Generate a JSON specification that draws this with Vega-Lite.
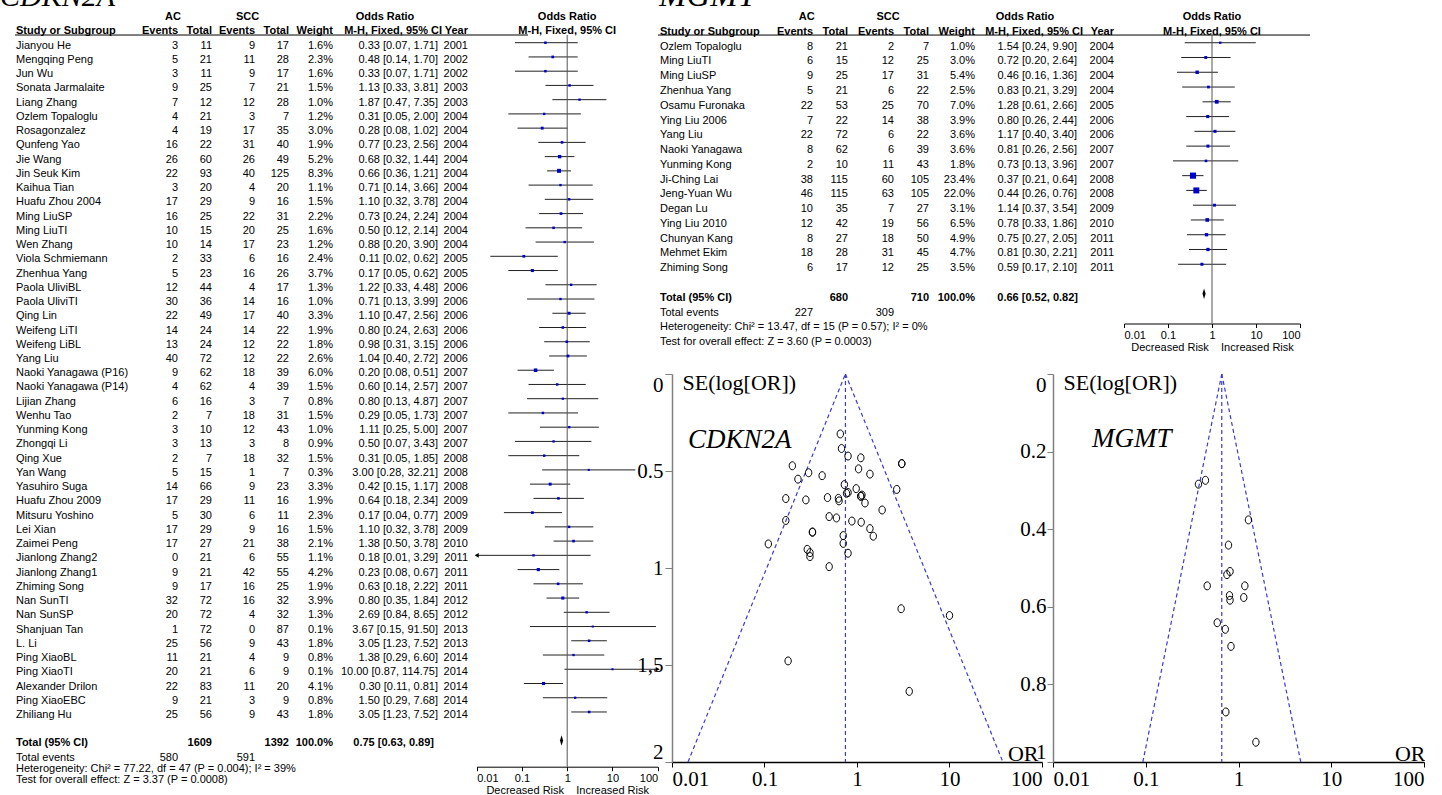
{
"$schema":"https://vega.github.io/schema/vega-lite/v6.json",
"padding":0,
"background":"white",
"config":{"view":{"stroke":null},"text":{"font":"Liberation Sans","fontSize":11,"color":"black","align":"right","baseline":"middle"},"rule":{"color":"black","strokeWidth":1},"axis":{"grid":false}},
"datasets":{
"cd":[
{"r":"h1","kind":"h1","ttl":"CDKN2A","ae":"AC","se":"SCC","ci":"Odds Ratio","fh":"Odds Ratio"},
{"r":"h2","kind":"h2","name":"Study or Subgroup","ae":"Events","at":"Total","se":"Events","st":"Total","w":"Weight","ci":"M-H, Fixed, 95% CI","yr":"Year","fh":"M-H, Fixed, 95% CI"},
{"r":"1","kind":"study","name":"Jianyou He","ae":3,"at":11,"se":9,"st":17,"w":"1.6%","ci":"0.33 [0.07, 1.71]","yr":"2001","orv":0.33,"lo":0.07,"hi":1.71,"wt":1.6,"sel":0.815},
{"r":"2","kind":"study","name":"Mengqing Peng","ae":5,"at":21,"se":11,"st":28,"w":"2.3%","ci":"0.48 [0.14, 1.70]","yr":"2002","orv":0.48,"lo":0.14,"hi":1.70,"wt":2.3,"sel":0.637},
{"r":"3","kind":"study","name":"Jun Wu","ae":3,"at":11,"se":9,"st":17,"w":"1.6%","ci":"0.33 [0.07, 1.71]","yr":"2002","orv":0.33,"lo":0.07,"hi":1.71,"wt":1.6,"sel":0.815},
{"r":"4","kind":"study","name":"Sonata Jarmalaite","ae":9,"at":25,"se":7,"st":21,"w":"1.5%","ci":"1.13 [0.33, 3.81]","yr":"2003","orv":1.13,"lo":0.33,"hi":3.81,"wt":1.5,"sel":0.624},
{"r":"5","kind":"study","name":"Liang Zhang","ae":7,"at":12,"se":12,"st":28,"w":"1.0%","ci":"1.87 [0.47, 7.35]","yr":"2003","orv":1.87,"lo":0.47,"hi":7.35,"wt":1.0,"sel":0.701},
{"r":"6","kind":"study","name":"Ozlem Topaloglu","ae":4,"at":21,"se":3,"st":7,"w":"1.2%","ci":"0.31 [0.05, 2.00]","yr":"2004","orv":0.31,"lo":0.05,"hi":2.00,"wt":1.2,"sel":0.941},
{"r":"7","kind":"study","name":"Rosagonzalez","ae":4,"at":19,"se":17,"st":35,"w":"3.0%","ci":"0.28 [0.08, 1.02]","yr":"2004","orv":0.28,"lo":0.08,"hi":1.02,"wt":3.0,"sel":0.649},
{"r":"8","kind":"study","name":"Qunfeng Yao","ae":16,"at":22,"se":31,"st":40,"w":"1.9%","ci":"0.77 [0.23, 2.56]","yr":"2004","orv":0.77,"lo":0.23,"hi":2.56,"wt":1.9,"sel":0.615},
{"r":"9","kind":"study","name":"Jie Wang","ae":26,"at":60,"se":26,"st":49,"w":"5.2%","ci":"0.68 [0.32, 1.44]","yr":"2004","orv":0.68,"lo":0.32,"hi":1.44,"wt":5.2,"sel":0.384},
{"r":"10","kind":"study","name":"Jin Seuk Kim","ae":22,"at":93,"se":40,"st":125,"w":"8.3%","ci":"0.66 [0.36, 1.21]","yr":"2004","orv":0.66,"lo":0.36,"hi":1.21,"wt":8.3,"sel":0.309},
{"r":"11","kind":"study","name":"Kaihua Tian","ae":3,"at":20,"se":4,"st":20,"w":"1.1%","ci":"0.71 [0.14, 3.66]","yr":"2004","orv":0.71,"lo":0.14,"hi":3.66,"wt":1.1,"sel":0.833},
{"r":"12","kind":"study","name":"Huafu Zhou 2004","ae":17,"at":29,"se":9,"st":16,"w":"1.5%","ci":"1.10 [0.32, 3.78]","yr":"2004","orv":1.10,"lo":0.32,"hi":3.78,"wt":1.5,"sel":0.630},
{"r":"13","kind":"study","name":"Ming LiuSP","ae":16,"at":25,"se":22,"st":31,"w":"2.2%","ci":"0.73 [0.24, 2.24]","yr":"2004","orv":0.73,"lo":0.24,"hi":2.24,"wt":2.2,"sel":0.570},
{"r":"14","kind":"study","name":"Ming LiuTI","ae":10,"at":15,"se":20,"st":25,"w":"1.6%","ci":"0.50 [0.12, 2.14]","yr":"2004","orv":0.50,"lo":0.12,"hi":2.14,"wt":1.6,"sel":0.735},
{"r":"15","kind":"study","name":"Wen Zhang","ae":10,"at":14,"se":17,"st":23,"w":"1.2%","ci":"0.88 [0.20, 3.90]","yr":"2004","orv":0.88,"lo":0.20,"hi":3.90,"wt":1.2,"sel":0.758},
{"r":"16","kind":"study","name":"Viola Schmiemann","ae":2,"at":33,"se":6,"st":16,"w":"2.4%","ci":"0.11 [0.02, 0.62]","yr":"2005","orv":0.11,"lo":0.02,"hi":0.62,"wt":2.4,"sel":0.876},
{"r":"17","kind":"study","name":"Zhenhua Yang","ae":5,"at":23,"se":16,"st":26,"w":"3.7%","ci":"0.17 [0.05, 0.62]","yr":"2005","orv":0.17,"lo":0.05,"hi":0.62,"wt":3.7,"sel":0.642},
{"r":"18","kind":"study","name":"Paola UliviBL","ae":12,"at":44,"se":4,"st":17,"w":"1.3%","ci":"1.22 [0.33, 4.48]","yr":"2006","orv":1.22,"lo":0.33,"hi":4.48,"wt":1.3,"sel":0.665},
{"r":"19","kind":"study","name":"Paola UliviTI","ae":30,"at":36,"se":14,"st":16,"w":"1.0%","ci":"0.71 [0.13, 3.99]","yr":"2006","orv":0.71,"lo":0.13,"hi":3.99,"wt":1.0,"sel":0.873},
{"r":"20","kind":"study","name":"Qing Lin","ae":22,"at":49,"se":17,"st":40,"w":"3.3%","ci":"1.10 [0.47, 2.56]","yr":"2006","orv":1.10,"lo":0.47,"hi":2.56,"wt":3.3,"sel":0.432},
{"r":"21","kind":"study","name":"Weifeng LiTI","ae":14,"at":24,"se":14,"st":22,"w":"1.9%","ci":"0.80 [0.24, 2.63]","yr":"2006","orv":0.80,"lo":0.24,"hi":2.63,"wt":1.9,"sel":0.611},
{"r":"22","kind":"study","name":"Weifeng LiBL","ae":13,"at":24,"se":12,"st":22,"w":"1.8%","ci":"0.98 [0.31, 3.15]","yr":"2006","orv":0.98,"lo":0.31,"hi":3.15,"wt":1.8,"sel":0.591},
{"r":"23","kind":"study","name":"Yang Liu","ae":40,"at":72,"se":12,"st":22,"w":"2.6%","ci":"1.04 [0.40, 2.72]","yr":"2006","orv":1.04,"lo":0.40,"hi":2.72,"wt":2.6,"sel":0.489},
{"r":"24","kind":"study","name":"Naoki Yanagawa (P16)","ae":9,"at":62,"se":18,"st":39,"w":"6.0%","ci":"0.20 [0.08, 0.51]","yr":"2007","orv":0.20,"lo":0.08,"hi":0.51,"wt":6.0,"sel":0.473},
{"r":"25","kind":"study","name":"Naoki Yanagawa (P14)","ae":4,"at":62,"se":4,"st":39,"w":"1.5%","ci":"0.60 [0.14, 2.57]","yr":"2007","orv":0.60,"lo":0.14,"hi":2.57,"wt":1.5,"sel":0.742},
{"r":"26","kind":"study","name":"Lijian Zhang","ae":6,"at":16,"se":3,"st":7,"w":"0.8%","ci":"0.80 [0.13, 4.87]","yr":"2007","orv":0.80,"lo":0.13,"hi":4.87,"wt":0.8,"sel":0.924},
{"r":"27","kind":"study","name":"Wenhu Tao","ae":2,"at":7,"se":18,"st":31,"w":"1.5%","ci":"0.29 [0.05, 1.73]","yr":"2007","orv":0.29,"lo":0.05,"hi":1.73,"wt":1.5,"sel":0.904},
{"r":"28","kind":"study","name":"Yunming Kong","ae":3,"at":10,"se":12,"st":43,"w":"1.0%","ci":"1.11 [0.25, 5.00]","yr":"2007","orv":1.11,"lo":0.25,"hi":5.00,"wt":1.0,"sel":0.764},
{"r":"29","kind":"study","name":"Zhongqi Li","ae":3,"at":13,"se":3,"st":8,"w":"0.9%","ci":"0.50 [0.07, 3.43]","yr":"2007","orv":0.50,"lo":0.07,"hi":3.43,"wt":0.9,"sel":0.993},
{"r":"30","kind":"study","name":"Qing Xue","ae":2,"at":7,"se":18,"st":32,"w":"1.5%","ci":"0.31 [0.05, 1.85]","yr":"2008","orv":0.31,"lo":0.05,"hi":1.85,"wt":1.5,"sel":0.921},
{"r":"31","kind":"study","name":"Yan Wang","ae":5,"at":15,"se":1,"st":7,"w":"0.3%","ci":"3.00 [0.28, 32.21]","yr":"2008","orv":3.00,"lo":0.28,"hi":32.21,"wt":0.3,"sel":1.210},
{"r":"32","kind":"study","name":"Yasuhiro Suga","ae":14,"at":66,"se":9,"st":23,"w":"3.3%","ci":"0.42 [0.15, 1.17]","yr":"2008","orv":0.42,"lo":0.15,"hi":1.17,"wt":3.3,"sel":0.524},
{"r":"33","kind":"study","name":"Huafu Zhou 2009","ae":17,"at":29,"se":11,"st":16,"w":"1.9%","ci":"0.64 [0.18, 2.34]","yr":"2009","orv":0.64,"lo":0.18,"hi":2.34,"wt":1.9,"sel":0.654},
{"r":"34","kind":"study","name":"Mitsuru Yoshino","ae":5,"at":30,"se":6,"st":11,"w":"2.3%","ci":"0.17 [0.04, 0.77]","yr":"2009","orv":0.17,"lo":0.04,"hi":0.77,"wt":2.3,"sel":0.755},
{"r":"35","kind":"study","name":"Lei Xian","ae":17,"at":29,"se":9,"st":16,"w":"1.5%","ci":"1.10 [0.32, 3.78]","yr":"2009","orv":1.10,"lo":0.32,"hi":3.78,"wt":1.5,"sel":0.630},
{"r":"36","kind":"study","name":"Zaimei Peng","ae":17,"at":27,"se":21,"st":38,"w":"2.1%","ci":"1.38 [0.50, 3.78]","yr":"2010","orv":1.38,"lo":0.50,"hi":3.78,"wt":2.1,"sel":0.516},
{"r":"37","kind":"study","name":"Jianlong Zhang2","ae":0,"at":21,"se":6,"st":55,"w":"1.1%","ci":"0.18 [0.01, 3.29]","yr":"2011","orv":0.18,"lo":0.01,"hi":3.29,"wt":1.1,"sel":1.479,"arrow":"left"},
{"r":"38","kind":"study","name":"Jianlong Zhang1","ae":9,"at":21,"se":42,"st":55,"w":"4.2%","ci":"0.23 [0.08, 0.67]","yr":"2011","orv":0.23,"lo":0.08,"hi":0.67,"wt":4.2,"sel":0.542},
{"r":"39","kind":"study","name":"Zhiming Song","ae":9,"at":17,"se":16,"st":25,"w":"1.9%","ci":"0.63 [0.18, 2.22]","yr":"2011","orv":0.63,"lo":0.18,"hi":2.22,"wt":1.9,"sel":0.641},
{"r":"40","kind":"study","name":"Nan SunTI","ae":32,"at":72,"se":16,"st":32,"w":"3.9%","ci":"0.80 [0.35, 1.84]","yr":"2012","orv":0.80,"lo":0.35,"hi":1.84,"wt":3.9,"sel":0.423},
{"r":"41","kind":"study","name":"Nan SunSP","ae":20,"at":72,"se":4,"st":32,"w":"1.3%","ci":"2.69 [0.84, 8.65]","yr":"2012","orv":2.69,"lo":0.84,"hi":8.65,"wt":1.3,"sel":0.595},
{"r":"42","kind":"study","name":"Shanjuan Tan","ae":1,"at":72,"se":0,"st":87,"w":"0.1%","ci":"3.67 [0.15, 91.50]","yr":"2013","orv":3.67,"lo":0.15,"hi":91.50,"wt":0.1,"sel":1.636},
{"r":"43","kind":"study","name":"L. Li","ae":25,"at":56,"se":9,"st":43,"w":"1.8%","ci":"3.05 [1.23, 7.52]","yr":"2013","orv":3.05,"lo":1.23,"hi":7.52,"wt":1.8,"sel":0.462},
{"r":"44","kind":"study","name":"Ping XiaoBL","ae":11,"at":21,"se":4,"st":9,"w":"0.8%","ci":"1.38 [0.29, 6.60]","yr":"2014","orv":1.38,"lo":0.29,"hi":6.60,"wt":0.8,"sel":0.797},
{"r":"45","kind":"study","name":"Ping XiaoTI","ae":20,"at":21,"se":6,"st":9,"w":"0.1%","ci":"10.00 [0.87, 114.75]","yr":"2014","orv":10.00,"lo":0.87,"hi":114.75,"wt":0.1,"sel":1.245,"arrow":"right"},
{"r":"46","kind":"study","name":"Alexander Drilon","ae":22,"at":83,"se":11,"st":20,"w":"4.1%","ci":"0.30 [0.11, 0.81]","yr":"2014","orv":0.30,"lo":0.11,"hi":0.81,"wt":4.1,"sel":0.509},
{"r":"47","kind":"study","name":"Ping XiaoEBC","ae":9,"at":21,"se":3,"st":9,"w":"0.8%","ci":"1.50 [0.29, 7.68]","yr":"2014","orv":1.50,"lo":0.29,"hi":7.68,"wt":0.8,"sel":0.836},
{"r":"48","kind":"study","name":"Zhiliang Hu","ae":25,"at":56,"se":9,"st":43,"w":"1.8%","ci":"3.05 [1.23, 7.52]","yr":"2014","orv":3.05,"lo":1.23,"hi":7.52,"wt":1.8,"sel":0.462},
{"r":"t","kind":"total","name":"Total (95% CI)","at":1609,"st":1392,"w":"100.0%","ci":"0.75 [0.63, 0.89]","orv":0.75,"lo":0.63,"hi":0.89},
{"r":"e","kind":"foot","name":"Total events","ae":580,"se":591},
{"r":"f","kind":"foot","name":"Heterogeneity: Chi² = 77.22, df = 47 (P = 0.004); I² = 39%\nTest for overall effect: Z = 3.37 (P = 0.0008)"}
],
"mg":[
{"r":"h1","kind":"h1","ttl":"MGMT","ae":"AC","se":"SCC","ci":"Odds Ratio","fh":"Odds Ratio"},
{"r":"h2","kind":"h2","name":"Study or Subgroup","ae":"Events","at":"Total","se":"Events","st":"Total","w":"Weight","ci":"M-H, Fixed, 95% CI","yr":"Year","fh":"M-H, Fixed, 95% CI"},
{"r":"1","kind":"study","name":"Ozlem Topaloglu","ae":8,"at":21,"se":2,"st":7,"w":"1.0%","ci":"1.54 [0.24, 9.90]","yr":"2004","orv":1.54,"lo":0.24,"hi":9.90,"wt":1.0,"sel":0.949},
{"r":"2","kind":"study","name":"Ming LiuTI","ae":6,"at":15,"se":12,"st":25,"w":"3.0%","ci":"0.72 [0.20, 2.64]","yr":"2004","orv":0.72,"lo":0.20,"hi":2.64,"wt":3.0,"sel":0.658},
{"r":"3","kind":"study","name":"Ming LiuSP","ae":9,"at":25,"se":17,"st":31,"w":"5.4%","ci":"0.46 [0.16, 1.36]","yr":"2004","orv":0.46,"lo":0.16,"hi":1.36,"wt":5.4,"sel":0.546},
{"r":"4","kind":"study","name":"Zhenhua Yang","ae":5,"at":21,"se":6,"st":22,"w":"2.5%","ci":"0.83 [0.21, 3.29]","yr":"2004","orv":0.83,"lo":0.21,"hi":3.29,"wt":2.5,"sel":0.702},
{"r":"5","kind":"study","name":"Osamu Furonaka","ae":22,"at":53,"se":25,"st":70,"w":"7.0%","ci":"1.28 [0.61, 2.66]","yr":"2005","orv":1.28,"lo":0.61,"hi":2.66,"wt":7.0,"sel":0.376},
{"r":"6","kind":"study","name":"Ying Liu 2006","ae":7,"at":22,"se":14,"st":38,"w":"3.9%","ci":"0.80 [0.26, 2.44]","yr":"2006","orv":0.80,"lo":0.26,"hi":2.44,"wt":3.9,"sel":0.571},
{"r":"7","kind":"study","name":"Yang Liu","ae":22,"at":72,"se":6,"st":22,"w":"3.6%","ci":"1.17 [0.40, 3.40]","yr":"2006","orv":1.17,"lo":0.40,"hi":3.40,"wt":3.6,"sel":0.546},
{"r":"8","kind":"study","name":"Naoki Yanagawa","ae":8,"at":62,"se":6,"st":39,"w":"3.6%","ci":"0.81 [0.26, 2.56]","yr":"2007","orv":0.81,"lo":0.26,"hi":2.56,"wt":3.6,"sel":0.583},
{"r":"9","kind":"study","name":"Yunming Kong","ae":2,"at":10,"se":11,"st":43,"w":"1.8%","ci":"0.73 [0.13, 3.96]","yr":"2007","orv":0.73,"lo":0.13,"hi":3.96,"wt":1.8,"sel":0.871},
{"r":"10","kind":"study","name":"Ji-Ching Lai","ae":38,"at":115,"se":60,"st":105,"w":"23.4%","ci":"0.37 [0.21, 0.64]","yr":"2008","orv":0.37,"lo":0.21,"hi":0.64,"wt":23.4,"sel":0.284},
{"r":"11","kind":"study","name":"Jeng-Yuan Wu","ae":46,"at":115,"se":63,"st":105,"w":"22.0%","ci":"0.44 [0.26, 0.76]","yr":"2008","orv":0.44,"lo":0.26,"hi":0.76,"wt":22.0,"sel":0.274},
{"r":"12","kind":"study","name":"Degan Lu","ae":10,"at":35,"se":7,"st":27,"w":"3.1%","ci":"1.14 [0.37, 3.54]","yr":"2009","orv":1.14,"lo":0.37,"hi":3.54,"wt":3.1,"sel":0.576},
{"r":"13","kind":"study","name":"Ying Liu 2010","ae":12,"at":42,"se":19,"st":56,"w":"6.5%","ci":"0.78 [0.33, 1.86]","yr":"2010","orv":0.78,"lo":0.33,"hi":1.86,"wt":6.5,"sel":0.441},
{"r":"14","kind":"study","name":"Chunyan Kang","ae":8,"at":27,"se":18,"st":50,"w":"4.9%","ci":"0.75 [0.27, 2.05]","yr":"2011","orv":0.75,"lo":0.27,"hi":2.05,"wt":4.9,"sel":0.517},
{"r":"15","kind":"study","name":"Mehmet Ekim","ae":18,"at":28,"se":31,"st":45,"w":"4.7%","ci":"0.81 [0.30, 2.21]","yr":"2011","orv":0.81,"lo":0.30,"hi":2.21,"wt":4.7,"sel":0.509},
{"r":"16","kind":"study","name":"Zhiming Song","ae":6,"at":17,"se":12,"st":25,"w":"3.5%","ci":"0.59 [0.17, 2.10]","yr":"2011","orv":0.59,"lo":0.17,"hi":2.10,"wt":3.5,"sel":0.641},
{"r":"t","kind":"total","name":"Total (95% CI)","at":680,"st":710,"w":"100.0%","ci":"0.66 [0.52, 0.82]","orv":0.66,"lo":0.52,"hi":0.82},
{"r":"e","kind":"foot","name":"Total events","ae":227,"se":309},
{"r":"f","kind":"foot","name":"Heterogeneity: Chi² = 13.47, df = 15 (P = 0.57); I² = 0%"},
{"r":"g","kind":"foot","name":"Test for overall effect: Z = 3.60 (P = 0.0003)"}
],
"fl1":[{"g":"l","orv":0.75,"sel":0},{"g":"l","orv":0.0149,"sel":2},{"g":"r","orv":0.75,"sel":0},{"g":"r","orv":37.8,"sel":2},{"g":"m","orv":0.75,"sel":0},{"g":"m","orv":0.75,"sel":2}],
"fl2":[{"g":"l","orv":0.66,"sel":0},{"g":"l","orv":0.093,"sel":1},{"g":"r","orv":0.66,"sel":0},{"g":"r","orv":4.69,"sel":1},{"g":"m","orv":0.66,"sel":0},{"g":"m","orv":0.66,"sel":1}]
},
"hconcat":[
{"width":144,"height":795,"data":{"name":"cd"},"encoding":{"y":{"field":"r","type":"nominal","scale":{"type":"band","domain":["h1","h2","1","2","3","4","5","6","7","8","9","10","11","12","13","14","15","16","17","18","19","20","21","22","23","24","25","26","27","28","29","30","31","32","33","34","35","36","37","38","39","40","41","42","43","44","45","46","47","48","b","t","e","f"],"range":[10.1,779.06],"paddingInner":0,"paddingOuter":0},"axis":null}},
"layer":[
{"transform":[{"filter":"datum.kind=='h1'"}],"mark":{"type":"text","font":"Liberation Serif","fontStyle":"italic","fontSize":30,"align":"left","baseline":"alphabetic","dy":-11,"clip":true},"encoding":{"x":{"value":0},"text":{"field":"ttl","type":"nominal"}}},
{"transform":[{"filter":"datum.kind=='study'||datum.r=='e'"}],"mark":{"type":"text","align":"left","dx":16},"encoding":{"x":{"value":0},"text":{"field":"name","type":"nominal"}}},
{"transform":[{"filter":"datum.r=='f'"}],"mark":{"type":"text","align":"left","dx":16,"dy":-3,"lineBreak":"\n","lineHeight":11.5},"encoding":{"x":{"value":0},"text":{"field":"name","type":"nominal"}}},
{"transform":[{"filter":"datum.kind=='h2'||datum.kind=='total'"}],"mark":{"type":"text","align":"left","dx":16,"fontWeight":"bold"},"encoding":{"x":{"value":0},"text":{"field":"name","type":"nominal"}}},
{"transform":[{"filter":"datum.kind=='h2'"}],"mark":{"type":"rule"},"encoding":{"x":{"value":15},"x2":{"value":"width"},"y":{"field":"r","type":"nominal","bandPosition":0.75,"axis":null}}}
]},
{"width":34,"height":795,"data":{"name":"cd"},"encoding":{"y":{"field":"r","type":"nominal","scale":{"type":"band","domain":["h1","h2","1","2","3","4","5","6","7","8","9","10","11","12","13","14","15","16","17","18","19","20","21","22","23","24","25","26","27","28","29","30","31","32","33","34","35","36","37","38","39","40","41","42","43","44","45","46","47","48","b","t","e","f"],"range":[10.1,779.06],"paddingInner":0,"paddingOuter":0},"axis":null}},
"layer":[
{"transform":[{"filter":"isValid(datum.ae)&&(datum.kind=='study'||datum.kind=='foot')"}],"mark":{"type":"text"},"encoding":{"x":{"value":"width"},"text":{"field":"ae","type":"nominal"}}},
{"transform":[{"filter":"isValid(datum.ae)&&(datum.kind=='h2'||datum.kind=='total')"}],"mark":{"type":"text","fontWeight":"bold"},"encoding":{"x":{"value":"width"},"text":{"field":"ae","type":"nominal"}}},
{"transform":[{"filter":"datum.kind=='h1'"}],"mark":{"type":"text","fontWeight":"bold","align":"center","dx":-5},"encoding":{"x":{"value":"width"},"text":{"field":"ae","type":"nominal"}}},
{"transform":[{"filter":"datum.kind=='h2'"}],"mark":{"type":"rule"},"encoding":{"x":{"value":0},"x2":{"value":"width"},"y":{"field":"r","type":"nominal","bandPosition":0.75,"axis":null}}}
]},
{"width":34,"height":795,"data":{"name":"cd"},"encoding":{"y":{"field":"r","type":"nominal","scale":{"type":"band","domain":["h1","h2","1","2","3","4","5","6","7","8","9","10","11","12","13","14","15","16","17","18","19","20","21","22","23","24","25","26","27","28","29","30","31","32","33","34","35","36","37","38","39","40","41","42","43","44","45","46","47","48","b","t","e","f"],"range":[10.1,779.06],"paddingInner":0,"paddingOuter":0},"axis":null}},
"layer":[
{"transform":[{"filter":"isValid(datum.at)&&(datum.kind=='study'||datum.kind=='foot')"}],"mark":{"type":"text"},"encoding":{"x":{"value":"width"},"text":{"field":"at","type":"nominal"}}},
{"transform":[{"filter":"isValid(datum.at)&&(datum.kind=='h2'||datum.kind=='total')"}],"mark":{"type":"text","fontWeight":"bold"},"encoding":{"x":{"value":"width"},"text":{"field":"at","type":"nominal"}}},
{"transform":[{"filter":"datum.kind=='h2'"}],"mark":{"type":"rule"},"encoding":{"x":{"value":0},"x2":{"value":"width"},"y":{"field":"r","type":"nominal","bandPosition":0.75,"axis":null}}}
]},
{"width":43,"height":795,"data":{"name":"cd"},"encoding":{"y":{"field":"r","type":"nominal","scale":{"type":"band","domain":["h1","h2","1","2","3","4","5","6","7","8","9","10","11","12","13","14","15","16","17","18","19","20","21","22","23","24","25","26","27","28","29","30","31","32","33","34","35","36","37","38","39","40","41","42","43","44","45","46","47","48","b","t","e","f"],"range":[10.1,779.06],"paddingInner":0,"paddingOuter":0},"axis":null}},
"layer":[
{"transform":[{"filter":"isValid(datum.se)&&(datum.kind=='study'||datum.kind=='foot')"}],"mark":{"type":"text"},"encoding":{"x":{"value":"width"},"text":{"field":"se","type":"nominal"}}},
{"transform":[{"filter":"isValid(datum.se)&&(datum.kind=='h2'||datum.kind=='total')"}],"mark":{"type":"text","fontWeight":"bold"},"encoding":{"x":{"value":"width"},"text":{"field":"se","type":"nominal"}}},
{"transform":[{"filter":"datum.kind=='h1'"}],"mark":{"type":"text","fontWeight":"bold","align":"center","dx":-7.5},"encoding":{"x":{"value":"width"},"text":{"field":"se","type":"nominal"}}},
{"transform":[{"filter":"datum.kind=='h2'"}],"mark":{"type":"rule"},"encoding":{"x":{"value":0},"x2":{"value":"width"},"y":{"field":"r","type":"nominal","bandPosition":0.75,"axis":null}}}
]},
{"width":34,"height":795,"data":{"name":"cd"},"encoding":{"y":{"field":"r","type":"nominal","scale":{"type":"band","domain":["h1","h2","1","2","3","4","5","6","7","8","9","10","11","12","13","14","15","16","17","18","19","20","21","22","23","24","25","26","27","28","29","30","31","32","33","34","35","36","37","38","39","40","41","42","43","44","45","46","47","48","b","t","e","f"],"range":[10.1,779.06],"paddingInner":0,"paddingOuter":0},"axis":null}},
"layer":[
{"transform":[{"filter":"isValid(datum.st)&&(datum.kind=='study'||datum.kind=='foot')"}],"mark":{"type":"text"},"encoding":{"x":{"value":"width"},"text":{"field":"st","type":"nominal"}}},
{"transform":[{"filter":"isValid(datum.st)&&(datum.kind=='h2'||datum.kind=='total')"}],"mark":{"type":"text","fontWeight":"bold"},"encoding":{"x":{"value":"width"},"text":{"field":"st","type":"nominal"}}},
{"transform":[{"filter":"datum.kind=='h2'"}],"mark":{"type":"rule"},"encoding":{"x":{"value":0},"x2":{"value":"width"},"y":{"field":"r","type":"nominal","bandPosition":0.75,"axis":null}}}
]},
{"width":44,"height":795,"data":{"name":"cd"},"encoding":{"y":{"field":"r","type":"nominal","scale":{"type":"band","domain":["h1","h2","1","2","3","4","5","6","7","8","9","10","11","12","13","14","15","16","17","18","19","20","21","22","23","24","25","26","27","28","29","30","31","32","33","34","35","36","37","38","39","40","41","42","43","44","45","46","47","48","b","t","e","f"],"range":[10.1,779.06],"paddingInner":0,"paddingOuter":0},"axis":null}},
"layer":[
{"transform":[{"filter":"isValid(datum.w)&&(datum.kind=='study'||datum.kind=='foot')"}],"mark":{"type":"text"},"encoding":{"x":{"value":"width"},"text":{"field":"w","type":"nominal"}}},
{"transform":[{"filter":"isValid(datum.w)&&(datum.kind=='h2'||datum.kind=='total')"}],"mark":{"type":"text","fontWeight":"bold"},"encoding":{"x":{"value":"width"},"text":{"field":"w","type":"nominal"}}},
{"transform":[{"filter":"datum.kind=='h2'"}],"mark":{"type":"rule"},"encoding":{"x":{"value":0},"x2":{"value":"width"},"y":{"field":"r","type":"nominal","bandPosition":0.75,"axis":null}}}
]},
{"width":105,"height":795,"data":{"name":"cd"},"encoding":{"y":{"field":"r","type":"nominal","scale":{"type":"band","domain":["h1","h2","1","2","3","4","5","6","7","8","9","10","11","12","13","14","15","16","17","18","19","20","21","22","23","24","25","26","27","28","29","30","31","32","33","34","35","36","37","38","39","40","41","42","43","44","45","46","47","48","b","t","e","f"],"range":[10.1,779.06],"paddingInner":0,"paddingOuter":0},"axis":null}},
"layer":[
{"transform":[{"filter":"isValid(datum.ci)&&(datum.kind=='study'||datum.kind=='foot')"}],"mark":{"type":"text"},"encoding":{"x":{"value":"width"},"text":{"field":"ci","type":"nominal"}}},
{"transform":[{"filter":"datum.kind=='h2'"}],"mark":{"type":"text","fontWeight":"bold","dx":4},"encoding":{"x":{"value":"width"},"text":{"field":"ci","type":"nominal"}}},
{"transform":[{"filter":"datum.kind=='total'"}],"mark":{"type":"text","fontWeight":"bold","dx":-4},"encoding":{"x":{"value":"width"},"text":{"field":"ci","type":"nominal"}}},
{"transform":[{"filter":"datum.kind=='h1'"}],"mark":{"type":"text","fontWeight":"bold","align":"center","dx":-53},"encoding":{"x":{"value":"width"},"text":{"field":"ci","type":"nominal"}}},
{"transform":[{"filter":"datum.kind=='h2'"}],"mark":{"type":"rule"},"encoding":{"x":{"value":0},"x2":{"value":"width"},"y":{"field":"r","type":"nominal","bandPosition":0.75,"axis":null}}}
]},
{"width":30,"height":795,"data":{"name":"cd"},"encoding":{"y":{"field":"r","type":"nominal","scale":{"type":"band","domain":["h1","h2","1","2","3","4","5","6","7","8","9","10","11","12","13","14","15","16","17","18","19","20","21","22","23","24","25","26","27","28","29","30","31","32","33","34","35","36","37","38","39","40","41","42","43","44","45","46","47","48","b","t","e","f"],"range":[10.1,779.06],"paddingInner":0,"paddingOuter":0},"axis":null}},
"layer":[
{"transform":[{"filter":"isValid(datum.yr)&&(datum.kind=='study'||datum.kind=='foot')"}],"mark":{"type":"text"},"encoding":{"x":{"value":"width"},"text":{"field":"yr","type":"nominal"}}},
{"transform":[{"filter":"isValid(datum.yr)&&(datum.kind=='h2'||datum.kind=='total')"}],"mark":{"type":"text","fontWeight":"bold"},"encoding":{"x":{"value":"width"},"text":{"field":"yr","type":"nominal"}}},
{"transform":[{"filter":"datum.kind=='h2'"}],"mark":{"type":"rule"},"encoding":{"x":{"value":0},"x2":{"value":"width"},"y":{"field":"r","type":"nominal","bandPosition":0.75,"axis":null}}}
]},
{"width":160,"height":766.7,"data":{"name":"cd"},"encoding":{"y":{"field":"r","type":"nominal","scale":{"type":"band","domain":["h1","h2","1","2","3","4","5","6","7","8","9","10","11","12","13","14","15","16","17","18","19","20","21","22","23","24","25","26","27","28","29","30","31","32","33","34","35","36","37","38","39","40","41","42","43","44","45","46","47","48","b","t","e","f"],"range":[7.1,776.06],"paddingInner":0,"paddingOuter":0},"axis":null}},
"layer":[
{"transform":[{"filter":"datum.kind=='study'"}],"mark":{"type":"rule","color":"#222222"},"encoding":{"x":{"field":"lo","type":"quantitative","scale":{"type":"log","domain":[0.01,100],"range":[8.7,189.7],"clamp":true},"axis":{"orient":"bottom","values":[0.01,0.1,1,10,100],"format":"~g","labelFlush":true,"grid":false,"domainColor":"black","tickColor":"black","tickSize":4,"labelPadding":2,"labelFont":"Liberation Sans","labelFontSize":11,"labelColor":"black","title":"Decreased Risk\u00a0\u00a0\u00a0\u00a0Increased Risk","titleFont":"Liberation Sans","titleFontSize":11,"titleFontWeight":"normal","titleColor":"black","titlePadding":1}},"x2":{"field":"hi"}}},
{"transform":[{"filter":"datum.kind=='h1'||datum.kind=='h2'"}],"mark":{"type":"text","fontWeight":"bold","align":"center","dy":3},"encoding":{"x":{"datum":1,"type":"quantitative"},"text":{"field":"fh","type":"nominal"}}},
{"transform":[{"filter":"datum.kind=='h2'"}],"mark":{"type":"rule"},"encoding":{"x":{"value":0},"x2":{"datum":60},"y":{"field":"r","type":"nominal","bandPosition":0.96,"axis":null}}},
{"transform":[{"filter":"datum.kind=='h2'"}],"mark":{"type":"rule","color":"#555555"},"encoding":{"x":{"datum":1,"type":"quantitative"},"y":{"field":"r","type":"nominal","bandPosition":0.96,"axis":null},"y2":{"value":"height"}}},
{"transform":[{"filter":"datum.kind=='study'"}],"mark":{"type":"point","shape":"square","filled":true,"color":"#0000cc","opacity":1},"encoding":{"x":{"field":"orv","type":"quantitative"},"size":{"field":"wt","type":"quantitative","scale":{"domain":[0,25],"range":[4,40]},"legend":null}}},
{"transform":[{"filter":"datum.arrow=='left'"}],"mark":{"type":"point","shape":"triangle-left","filled":true,"color":"black","size":22,"opacity":1},"encoding":{"x":{"field":"lo","type":"quantitative"}}},
{"transform":[{"filter":"datum.arrow=='right'"}],"mark":{"type":"point","shape":"triangle-right","filled":true,"color":"black","size":22,"opacity":1},"encoding":{"x":{"field":"hi","type":"quantitative"}}},
{"transform":[{"filter":"datum.kind=='total'"}],"mark":{"type":"point","shape":"M-0.3,0L0,-1L0.3,0L0,1Z","filled":true,"color":"black","size":110,"opacity":1},"encoding":{"x":{"field":"orv","type":"quantitative"}}}
]},
{"width":1,"height":762,
"layer":[
{"data":{"name":"fl1"},"mark":{"type":"line","strokeDash":[4,3],"color":"#3a3ad8","strokeWidth":1.2},"encoding":{"x":{"field":"orv","type":"quantitative","scale":{"type":"log","domain":[0.01,100],"range":[44,414]},"axis":{"values":[0.01,0.1,1,10,100],"format":"~g","labelFlush":true,"grid":false,"domainColor":"black","domainWidth":1.5,"tickColor":"black","tickSize":5,"labelPadding":1,"labelFont":"Liberation Serif","labelFontSize":21,"labelColor":"black","title":"OR","titleFont":"Liberation Serif","titleFontSize":22,"titleFontWeight":"normal","titleColor":"black","titleX":410,"titleY":-9,"titleAlign":"right","titleBaseline":"middle","titleAngle":0}},"y":{"field":"sel","type":"quantitative","scale":{"domain":[0,2],"range":[374,762],"nice":false,"zero":false},"axis":{"orient":"left","offset":-44,"values":[0,0.5,1,1.5,2],"format":"~g","labelExpr":"datum.value==1.5?'1,5':datum.label","labelFlush":true,"grid":false,"domainColor":"#808080","domainWidth":1.5,"tickColor":"#808080","tickSize":7,"labelPadding":2,"labelFont":"Liberation Serif","labelFontSize":21,"labelColor":"black","title":"SE(log[OR])","titleFont":"Liberation Serif","titleFontSize":22,"titleFontWeight":"normal","titleColor":"black","titleAngle":0,"titleX":10,"titleY":382,"titleAlign":"left","titleBaseline":"middle"}},"detail":{"field":"g"}}},
{"data":{"name":"cd"},"transform":[{"filter":"datum.kind=='study'"}],"mark":{"type":"point","shape":"M0,-1A0.8,1,0,1,1,0,1A0.8,1,0,1,1,0,-1Z","size":64,"filled":false,"color":"black","strokeWidth":1,"opacity":1},"encoding":{"x":{"field":"orv","type":"quantitative"},"y":{"field":"sel","type":"quantitative"}}},
{"data":{"values":[{"lab":"CDKN2A"}]},"mark":{"type":"text","font":"Liberation Serif","fontStyle":"italic","fontSize":27,"align":"left","baseline":"alphabetic"},"encoding":{"x":{"datum":0.0149,"type":"quantitative"},"y":{"datum":0.381,"type":"quantitative"},"text":{"field":"lab","type":"nominal"}}}
]},
{"width":1,"height":762,
"layer":[
{"data":{"name":"fl2"},"mark":{"type":"line","strokeDash":[4,3],"color":"#3a3ad8","strokeWidth":1.2},"encoding":{"x":{"field":"orv","type":"quantitative","scale":{"type":"log","domain":[0.01,100],"range":[424,795]},"axis":{"values":[0.01,0.1,1,10,100],"format":"~g","labelFlush":true,"grid":false,"domainColor":"black","domainWidth":1.5,"tickColor":"black","tickSize":5,"labelPadding":1,"labelFont":"Liberation Serif","labelFontSize":21,"labelColor":"black","title":"OR","titleFont":"Liberation Serif","titleFontSize":22,"titleFontWeight":"normal","titleColor":"black","titleX":796,"titleY":-9,"titleAlign":"right","titleBaseline":"middle","titleAngle":0}},"y":{"field":"sel","type":"quantitative","scale":{"domain":[0,1],"range":[374,762],"nice":false,"zero":false},"axis":{"orient":"left","offset":-424,"values":[0,0.2,0.4,0.6,0.8,1],"format":"~g","labelFlush":true,"grid":false,"domainColor":"#808080","domainWidth":1.5,"tickColor":"#808080","tickSize":6,"labelPadding":1,"labelFont":"Liberation Serif","labelFontSize":21,"labelColor":"black","title":"SE(log[OR])","titleFont":"Liberation Serif","titleFontSize":22,"titleFontWeight":"normal","titleColor":"black","titleAngle":0,"titleX":10,"titleY":382,"titleAlign":"left","titleBaseline":"middle"}},"detail":{"field":"g"}}},
{"data":{"name":"mg"},"transform":[{"filter":"datum.kind=='study'"}],"mark":{"type":"point","shape":"M0,-1A0.8,1,0,1,1,0,1A0.8,1,0,1,1,0,-1Z","size":64,"filled":false,"color":"black","strokeWidth":1,"opacity":1},"encoding":{"x":{"field":"orv","type":"quantitative"},"y":{"field":"sel","type":"quantitative"}}},
{"data":{"values":[{"lab":"MGMT"}]},"mark":{"type":"text","font":"Liberation Serif","fontStyle":"italic","fontSize":27,"align":"left","baseline":"alphabetic"},"encoding":{"x":{"datum":0.0263,"type":"quantitative"},"y":{"datum":0.189,"type":"quantitative"},"text":{"field":"lab","type":"nominal"}}}
]},
{"width":148,"height":374,"data":{"name":"mg"},"encoding":{"y":{"field":"r","type":"nominal","scale":{"type":"band","domain":["h1","h2","1","2","3","4","5","6","7","8","9","10","11","12","13","14","15","16","b","t","e","f","g"],"range":[9.8,349.5],"paddingInner":0,"paddingOuter":0},"axis":null}},
"layer":[
{"transform":[{"filter":"datum.kind=='h1'"}],"mark":{"type":"text","font":"Liberation Serif","fontStyle":"italic","fontSize":33,"align":"left","baseline":"alphabetic","dy":-11,"dx":29,"clip":true},"encoding":{"x":{"value":0},"text":{"field":"ttl","type":"nominal"}}},
{"transform":[{"filter":"datum.kind=='study'||datum.kind=='foot'"}],"mark":{"type":"text","align":"left","dx":30},"encoding":{"x":{"value":0},"text":{"field":"name","type":"nominal"}}},
{"transform":[{"filter":"datum.kind=='h2'||datum.kind=='total'"}],"mark":{"type":"text","align":"left","dx":30,"fontWeight":"bold"},"encoding":{"x":{"value":0},"text":{"field":"name","type":"nominal"}}},
{"transform":[{"filter":"datum.kind=='h2'"}],"mark":{"type":"rule"},"encoding":{"x":{"value":28},"x2":{"value":"width"},"y":{"field":"r","type":"nominal","bandPosition":0.71,"axis":null}}}
]},
{"width":35,"height":374,"data":{"name":"mg"},"encoding":{"y":{"field":"r","type":"nominal","scale":{"type":"band","domain":["h1","h2","1","2","3","4","5","6","7","8","9","10","11","12","13","14","15","16","b","t","e","f","g"],"range":[9.8,349.5],"paddingInner":0,"paddingOuter":0},"axis":null}},
"layer":[
{"transform":[{"filter":"isValid(datum.ae)&&(datum.kind=='study'||datum.kind=='foot')"}],"mark":{"type":"text"},"encoding":{"x":{"value":"width"},"text":{"field":"ae","type":"nominal"}}},
{"transform":[{"filter":"isValid(datum.ae)&&(datum.kind=='h2'||datum.kind=='total')"}],"mark":{"type":"text","fontWeight":"bold"},"encoding":{"x":{"value":"width"},"text":{"field":"ae","type":"nominal"}}},
{"transform":[{"filter":"datum.kind=='h1'"}],"mark":{"type":"text","fontWeight":"bold","align":"center","dx":-6.3},"encoding":{"x":{"value":"width"},"text":{"field":"ae","type":"nominal"}}},
{"transform":[{"filter":"datum.kind=='h2'"}],"mark":{"type":"rule"},"encoding":{"x":{"value":0},"x2":{"value":"width"},"y":{"field":"r","type":"nominal","bandPosition":0.71,"axis":null}}}
]},
{"width":35,"height":374,"data":{"name":"mg"},"encoding":{"y":{"field":"r","type":"nominal","scale":{"type":"band","domain":["h1","h2","1","2","3","4","5","6","7","8","9","10","11","12","13","14","15","16","b","t","e","f","g"],"range":[9.8,349.5],"paddingInner":0,"paddingOuter":0},"axis":null}},
"layer":[
{"transform":[{"filter":"isValid(datum.at)&&(datum.kind=='study'||datum.kind=='foot')"}],"mark":{"type":"text"},"encoding":{"x":{"value":"width"},"text":{"field":"at","type":"nominal"}}},
{"transform":[{"filter":"isValid(datum.at)&&(datum.kind=='h2'||datum.kind=='total')"}],"mark":{"type":"text","fontWeight":"bold"},"encoding":{"x":{"value":"width"},"text":{"field":"at","type":"nominal"}}},
{"transform":[{"filter":"datum.kind=='h2'"}],"mark":{"type":"rule"},"encoding":{"x":{"value":0},"x2":{"value":"width"},"y":{"field":"r","type":"nominal","bandPosition":0.71,"axis":null}}}
]},
{"width":46,"height":374,"data":{"name":"mg"},"encoding":{"y":{"field":"r","type":"nominal","scale":{"type":"band","domain":["h1","h2","1","2","3","4","5","6","7","8","9","10","11","12","13","14","15","16","b","t","e","f","g"],"range":[9.8,349.5],"paddingInner":0,"paddingOuter":0},"axis":null}},
"layer":[
{"transform":[{"filter":"isValid(datum.se)&&(datum.kind=='study'||datum.kind=='foot')"}],"mark":{"type":"text"},"encoding":{"x":{"value":"width"},"text":{"field":"se","type":"nominal"}}},
{"transform":[{"filter":"isValid(datum.se)&&(datum.kind=='h2'||datum.kind=='total')"}],"mark":{"type":"text","fontWeight":"bold"},"encoding":{"x":{"value":"width"},"text":{"field":"se","type":"nominal"}}},
{"transform":[{"filter":"datum.kind=='h1'"}],"mark":{"type":"text","fontWeight":"bold","align":"center","dx":-6},"encoding":{"x":{"value":"width"},"text":{"field":"se","type":"nominal"}}},
{"transform":[{"filter":"datum.kind=='h2'"}],"mark":{"type":"rule"},"encoding":{"x":{"value":0},"x2":{"value":"width"},"y":{"field":"r","type":"nominal","bandPosition":0.71,"axis":null}}}
]},
{"width":35,"height":374,"data":{"name":"mg"},"encoding":{"y":{"field":"r","type":"nominal","scale":{"type":"band","domain":["h1","h2","1","2","3","4","5","6","7","8","9","10","11","12","13","14","15","16","b","t","e","f","g"],"range":[9.8,349.5],"paddingInner":0,"paddingOuter":0},"axis":null}},
"layer":[
{"transform":[{"filter":"isValid(datum.st)&&(datum.kind=='study'||datum.kind=='foot')"}],"mark":{"type":"text"},"encoding":{"x":{"value":"width"},"text":{"field":"st","type":"nominal"}}},
{"transform":[{"filter":"isValid(datum.st)&&(datum.kind=='h2'||datum.kind=='total')"}],"mark":{"type":"text","fontWeight":"bold"},"encoding":{"x":{"value":"width"},"text":{"field":"st","type":"nominal"}}},
{"transform":[{"filter":"datum.kind=='h2'"}],"mark":{"type":"rule"},"encoding":{"x":{"value":0},"x2":{"value":"width"},"y":{"field":"r","type":"nominal","bandPosition":0.71,"axis":null}}}
]},
{"width":46,"height":374,"data":{"name":"mg"},"encoding":{"y":{"field":"r","type":"nominal","scale":{"type":"band","domain":["h1","h2","1","2","3","4","5","6","7","8","9","10","11","12","13","14","15","16","b","t","e","f","g"],"range":[9.8,349.5],"paddingInner":0,"paddingOuter":0},"axis":null}},
"layer":[
{"transform":[{"filter":"isValid(datum.w)&&(datum.kind=='study'||datum.kind=='foot')"}],"mark":{"type":"text"},"encoding":{"x":{"value":"width"},"text":{"field":"w","type":"nominal"}}},
{"transform":[{"filter":"isValid(datum.w)&&(datum.kind=='h2'||datum.kind=='total')"}],"mark":{"type":"text","fontWeight":"bold"},"encoding":{"x":{"value":"width"},"text":{"field":"w","type":"nominal"}}},
{"transform":[{"filter":"datum.kind=='h2'"}],"mark":{"type":"rule"},"encoding":{"x":{"value":0},"x2":{"value":"width"},"y":{"field":"r","type":"nominal","bandPosition":0.71,"axis":null}}}
]},
{"width":102,"height":374,"data":{"name":"mg"},"encoding":{"y":{"field":"r","type":"nominal","scale":{"type":"band","domain":["h1","h2","1","2","3","4","5","6","7","8","9","10","11","12","13","14","15","16","b","t","e","f","g"],"range":[9.8,349.5],"paddingInner":0,"paddingOuter":0},"axis":null}},
"layer":[
{"transform":[{"filter":"isValid(datum.ci)&&(datum.kind=='study'||datum.kind=='foot')"}],"mark":{"type":"text"},"encoding":{"x":{"value":"width"},"text":{"field":"ci","type":"nominal"}}},
{"transform":[{"filter":"datum.kind=='h2'"}],"mark":{"type":"text","fontWeight":"bold","dx":6},"encoding":{"x":{"value":"width"},"text":{"field":"ci","type":"nominal"}}},
{"transform":[{"filter":"datum.kind=='total'"}],"mark":{"type":"text","fontWeight":"bold","dx":1},"encoding":{"x":{"value":"width"},"text":{"field":"ci","type":"nominal"}}},
{"transform":[{"filter":"datum.kind=='h1'"}],"mark":{"type":"text","fontWeight":"bold","align":"center","dx":-52},"encoding":{"x":{"value":"width"},"text":{"field":"ci","type":"nominal"}}},
{"transform":[{"filter":"datum.kind=='h2'"}],"mark":{"type":"rule"},"encoding":{"x":{"value":0},"x2":{"value":"width"},"y":{"field":"r","type":"nominal","bandPosition":0.71,"axis":null}}}
]},
{"width":37,"height":374,"data":{"name":"mg"},"encoding":{"y":{"field":"r","type":"nominal","scale":{"type":"band","domain":["h1","h2","1","2","3","4","5","6","7","8","9","10","11","12","13","14","15","16","b","t","e","f","g"],"range":[9.8,349.5],"paddingInner":0,"paddingOuter":0},"axis":null}},
"layer":[
{"transform":[{"filter":"isValid(datum.yr)&&(datum.kind=='study'||datum.kind=='foot')"}],"mark":{"type":"text"},"encoding":{"x":{"value":"width"},"text":{"field":"yr","type":"nominal"}}},
{"transform":[{"filter":"isValid(datum.yr)&&(datum.kind=='h2'||datum.kind=='total')"}],"mark":{"type":"text","fontWeight":"bold"},"encoding":{"x":{"value":"width"},"text":{"field":"yr","type":"nominal"}}},
{"transform":[{"filter":"datum.kind=='h2'"}],"mark":{"type":"rule"},"encoding":{"x":{"value":0},"x2":{"value":"width"},"y":{"field":"r","type":"nominal","bandPosition":0.71,"axis":null}}}
]},
{"width":196,"height":323.5,"data":{"name":"mg"},"encoding":{"y":{"field":"r","type":"nominal","scale":{"type":"band","domain":["h1","h2","1","2","3","4","5","6","7","8","9","10","11","12","13","14","15","16","b","t","e","f","g"],"range":[5.8,345.5],"paddingInner":0,"paddingOuter":0},"axis":null}},
"layer":[
{"transform":[{"filter":"datum.kind=='study'"}],"mark":{"type":"rule","color":"#222222"},"encoding":{"x":{"field":"lo","type":"quantitative","scale":{"type":"log","domain":[0.01,100],"range":[10,186],"clamp":true},"axis":{"orient":"bottom","values":[0.01,0.1,1,10,100],"format":"~g","labelFlush":true,"grid":false,"domainColor":"black","tickColor":"black","tickSize":4,"labelPadding":2,"labelFont":"Liberation Sans","labelFontSize":11,"labelColor":"black","title":"Decreased Risk\u00a0\u00a0\u00a0\u00a0Increased Risk","titleFont":"Liberation Sans","titleFontSize":11,"titleFontWeight":"normal","titleColor":"black","titlePadding":1}},"x2":{"field":"hi"}}},
{"transform":[{"filter":"datum.kind=='h1'||datum.kind=='h2'"}],"mark":{"type":"text","fontWeight":"bold","align":"center","dy":4},"encoding":{"x":{"datum":1,"type":"quantitative"},"text":{"field":"fh","type":"nominal"}}},
{"transform":[{"filter":"datum.kind=='h2'"}],"mark":{"type":"rule"},"encoding":{"x":{"value":0},"x2":{"value":"width"},"y":{"field":"r","type":"nominal","bandPosition":0.98,"axis":null}}},
{"transform":[{"filter":"datum.kind=='h2'"}],"mark":{"type":"rule","color":"#555555"},"encoding":{"x":{"datum":1,"type":"quantitative"},"y":{"field":"r","type":"nominal","bandPosition":0.98,"axis":null},"y2":{"value":"height"}}},
{"transform":[{"filter":"datum.kind=='study'"}],"mark":{"type":"point","shape":"square","filled":true,"color":"#0000cc","opacity":1},"encoding":{"x":{"field":"orv","type":"quantitative"},"size":{"field":"wt","type":"quantitative","scale":{"domain":[0,25],"range":[4,40]},"legend":null}}},
{"transform":[{"filter":"datum.kind=='total'"}],"mark":{"type":"point","shape":"M-0.3,0L0,-1L0.3,0L0,1Z","filled":true,"color":"black","size":110,"opacity":1},"encoding":{"x":{"field":"orv","type":"quantitative"}}}
]}
],
"spacing":0,
"bounds":"flush"
}
